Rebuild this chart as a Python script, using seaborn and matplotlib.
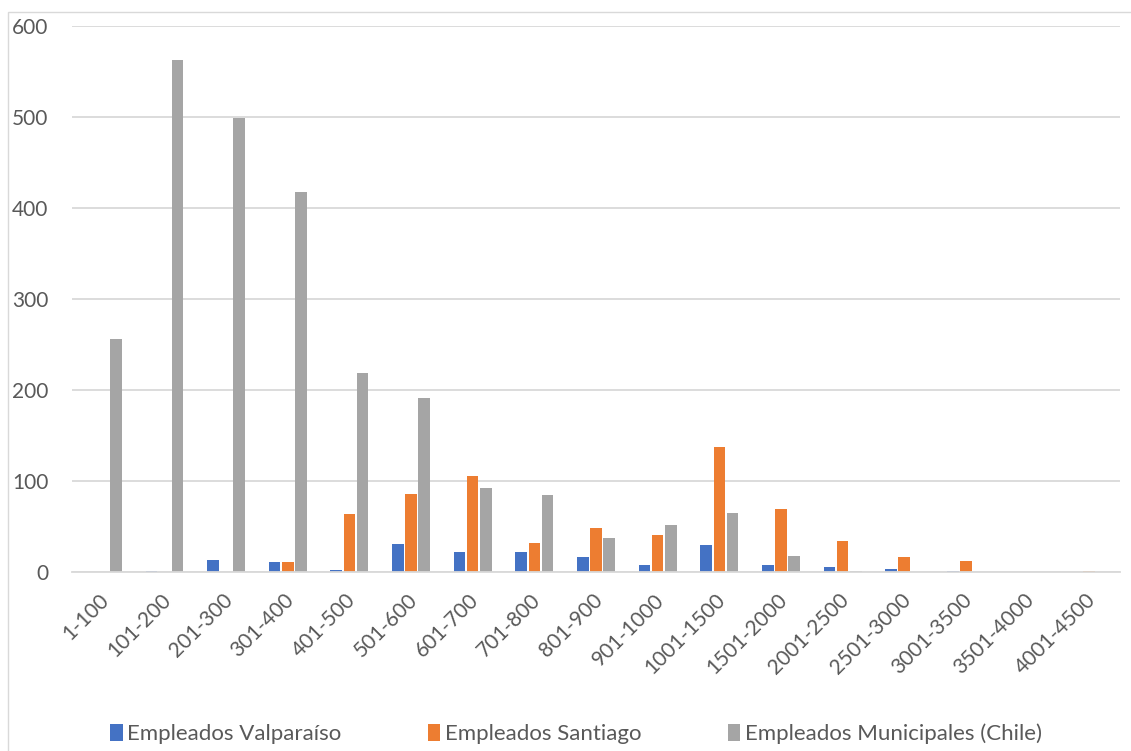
import matplotlib
matplotlib.use("Agg")
import matplotlib.pyplot as plt
import matplotlib.patches as mpatches
import matplotlib.transforms as mtransforms
import seaborn as sns
import pandas as pd

# Salary ranges (categories on the x axis)
ranges = ["1-100", "101-200", "201-300", "301-400", "401-500", "501-600",
          "601-700", "701-800", "801-900", "901-1000", "1001-1500",
          "1501-2000", "2001-2500", "2501-3000", "3001-3500", "3501-4000",
          "4001-4500"]

valparaiso = [0, 1, 13, 11, 2, 31, 22, 22, 16, 8, 30, 8, 6, 3, 1, 0, 0]
santiago = [0, 0, 0, 11, 64, 86, 105, 32, 48, 41, 137, 69, 34, 17, 12, 0, 1]
municipales = [256, 563, 499, 418, 219, 191, 92, 85, 37, 52, 65, 18, 1, 0, 0, 0, 0]

series_names = ["Empleados Valparaíso", "Empleados Santiago",
                "Empleados Municipales (Chile)"]
series_values = [valparaiso, santiago, municipales]
colors = ["#4472C4", "#ED7D31", "#A5A5A5"]

y_ticks = [0, 100, 200, 300, 400, 500, 600]

rows = []
for name, vals in zip(series_names, series_values):
    for r, v in zip(ranges, vals):
        rows.append({"rango": r, "serie": name, "valor": v})
df = pd.DataFrame(rows)

sns.set_theme(style="white")
plt.rcParams["font.family"] = ["Lato", "DejaVu Sans"]

W, H = 1131, 751
fig = plt.figure(figsize=(W / 100, H / 100), dpi=100)
ax = fig.add_axes([72 / W, 1 - 572 / H, (1120 - 72) / W, (572 - 26) / H])

sns.barplot(data=df, x="rango", y="valor", hue="serie", order=ranges,
            hue_order=series_names, palette=colors, width=0.64, gap=0.12,
            saturation=1, ax=ax, legend=False, edgecolor="none")

ax.set_ylim(0, 600)
ax.set_yticks(y_ticks)
ax.set_xlim(-0.5, len(ranges) - 0.5)
ax.yaxis.grid(True, color="#D9D9D9", linewidth=1.3)
ax.set_axisbelow(True)
for side in ["top", "right", "left"]:
    ax.spines[side].set_visible(False)
ax.spines["bottom"].set_color("#D9D9D9")
ax.spines["bottom"].set_linewidth(1.3)
ax.set_xlabel("")
ax.set_ylabel("")
ax.tick_params(axis="y", length=0, pad=17, labelsize=15, labelcolor="#595959")
ax.tick_params(axis="x", length=0, pad=13, labelsize=15, labelcolor="#595959")
shift = mtransforms.ScaledTranslation(-4 / 100, 0, fig.dpi_scale_trans)
for lab in ax.get_xticklabels():
    lab.set_rotation(45)
    lab.set_ha("right")
    lab.set_va("top")
    lab.set_rotation_mode("anchor")
    lab.set_transform(lab.get_transform() + shift)

# Legend below the plot
handles = [mpatches.Patch(facecolor=c, edgecolor="none") for c in colors]
fig.legend(handles, series_names, loc="lower center", ncol=3,
           bbox_to_anchor=(576 / W, -2 / H), borderaxespad=0, frameon=False,
           fontsize=16, labelcolor="#595959", handlelength=0.55,
           handleheight=0.75, handletextpad=0.2, columnspacing=3.9)

# Thin outer frame of the chart area
frame = mpatches.Rectangle((8 / W, -0.05), 1.05, 1 - 12 / H + 0.05,
                           transform=fig.transFigure, fill=False,
                           edgecolor="#D9D9D9", linewidth=1.0)
fig.patches.append(frame)

fig.savefig("out.png", dpi=100, facecolor="white")
